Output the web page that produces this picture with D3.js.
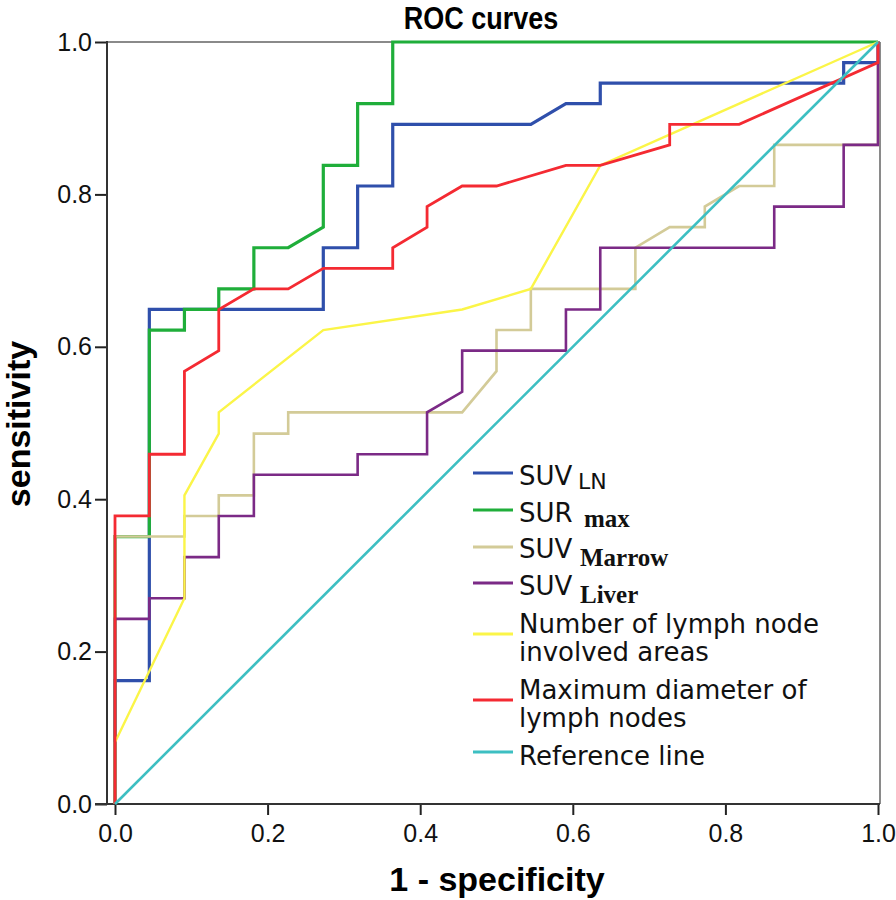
<!DOCTYPE html>
<html>
<head>
  <title>ROC curves</title>
  <script src="https://d3js.org/d3.v7.min.js"></script>
  <style>
    body { margin: 0; background: #fff; }
  </style>
</head>
<body>
  <div id="chart"></div>
  <script>
    // ROC points (1 - specificity, sensitivity)
    const suvLnFpr  = [0,0,0.045,0.045,0.273,0.273,0.318,0.318,0.364,0.364,0.545,0.591,0.636,0.636,0.955,0.955,1,1];
    const suvLnTpr  = [0,0.162,0.162,0.649,0.649,0.730,0.730,0.811,0.811,0.892,0.892,0.919,0.919,0.946,0.946,0.973,0.973,1];

    const surMaxFpr = [0,0,0.045,0.045,0.091,0.091,0.136,0.136,0.182,0.182,0.227,0.273,0.273,0.318,0.318,0.364,0.364,1];
    const surMaxTpr = [0,0.351,0.351,0.622,0.622,0.649,0.649,0.676,0.676,0.730,0.730,0.757,0.838,0.838,0.919,0.919,1,1];

    const marrowFpr = [0,0,0.091,0.091,0.136,0.136,0.182,0.182,0.227,0.227,0.455,0.5,0.5,0.545,0.545,0.682,0.682,0.727,0.773,0.773,0.818,0.864,0.864,1,1];
    const marrowTpr = [0,0.351,0.351,0.378,0.378,0.405,0.405,0.486,0.486,0.514,0.514,0.568,0.622,0.622,0.676,0.676,0.730,0.757,0.757,0.784,0.811,0.811,0.865,0.865,1];

    const liverFpr  = [0,0,0.045,0.045,0.091,0.091,0.136,0.136,0.182,0.182,0.318,0.318,0.409,0.409,0.455,0.455,0.591,0.591,0.636,0.636,0.864,0.864,0.955,0.955,1,1];
    const liverTpr  = [0,0.243,0.243,0.270,0.270,0.324,0.324,0.378,0.378,0.432,0.432,0.459,0.459,0.514,0.541,0.595,0.595,0.649,0.649,0.730,0.730,0.784,0.784,0.865,0.865,1];

    const areasFpr  = [0,0,0.091,0.091,0.136,0.136,0.273,0.455,0.545,0.636,1];
    const areasTpr  = [0,0.081,0.270,0.405,0.486,0.514,0.622,0.649,0.676,0.838,1];

    const diamFpr   = [0,0,0.045,0.045,0.091,0.091,0.136,0.136,0.182,0.227,0.273,0.364,0.364,0.409,0.409,0.455,0.5,0.591,0.636,0.727,0.727,0.818,1,1];
    const diamTpr   = [0,0.378,0.378,0.459,0.459,0.568,0.595,0.649,0.676,0.676,0.703,0.703,0.730,0.757,0.784,0.811,0.811,0.838,0.838,0.865,0.892,0.892,0.973,1];

    const refFpr    = [0, 1];
    const refTpr    = [0, 1];

    const ticks = [0, 0.2, 0.4, 0.6, 0.8, 1.0];

    const curves = [
      {fpr: suvLnFpr,  tpr: suvLnTpr,  color: "#2f4fab", w: 3.2},
      {fpr: surMaxFpr, tpr: surMaxTpr, color: "#1fae3a", w: 3.2},
      {fpr: marrowFpr, tpr: marrowTpr, color: "#d3cb98", w: 2.6},
      {fpr: liverFpr,  tpr: liverTpr,  color: "#7b2a86", w: 2.6},
      {fpr: areasFpr,  tpr: areasTpr,  color: "#fbf548", w: 2.4},
      {fpr: diamFpr,   tpr: diamTpr,   color: "#f42a32", w: 2.8},
      {fpr: refFpr,    tpr: refTpr,    color: "#3dbfc2", w: 2.6}
    ];

    const width = 896, height = 900;
    const svg = d3.select("#chart").append("svg")
      .attr("width", width)
      .attr("height", height);

    const x = d3.scaleLinear().domain([0, 1]).range([115, 878]);
    const y = d3.scaleLinear().domain([0, 1]).range([804, 42]);

    const left = 107, right = 880;

    // frame: gray top/right, dark axes
    svg.append("line").attr("x1", left).attr("x2", right).attr("y1", y(1)).attr("y2", y(1))
      .attr("stroke", "#8a8a8a").attr("stroke-width", 2);
    svg.append("line").attr("x1", right).attr("x2", right).attr("y1", y(1)).attr("y2", y(0))
      .attr("stroke", "#8a8a8a").attr("stroke-width", 2);

    // axes
    const yAxis = svg.append("g")
      .attr("transform", `translate(${left},0)`)
      .call(d3.axisLeft(y).tickValues(ticks).tickFormat(d3.format(".1f")).tickSize(12).tickPadding(3));
    const xAxis = svg.append("g")
      .attr("transform", `translate(0,${y(0)})`)
      .call(d3.axisBottom(x).tickValues(ticks).tickFormat(d3.format(".1f")).tickSize(11).tickPadding(6));

    [yAxis, xAxis].forEach(g => {
      g.select(".domain").remove();
      g.selectAll(".tick line").attr("stroke", "#222").attr("stroke-width", 2);
      g.selectAll(".tick text")
        .attr("fill", "#111")
        .style("font-family", "Liberation Sans, Arial, sans-serif")
        .style("font-size", "25px");
    });
    xAxis.selectAll(".tick text").attr("dy", "0.85em");

    svg.append("line").attr("x1", left).attr("x2", left).attr("y1", y(1) - 1).attr("y2", y(0) + 1)
      .attr("stroke", "#333").attr("stroke-width", 2);
    svg.append("line").attr("x1", left - 12).attr("x2", right).attr("y1", y(0)).attr("y2", y(0))
      .attr("stroke", "#333").attr("stroke-width", 2);

    // curves
    const line = d3.line().x(d => x(d[0])).y(d => y(d[1]));
    curves.forEach(c => {
      svg.append("path")
        .datum(c.fpr.map((f, i) => [f, c.tpr[i]]))
        .attr("d", line)
        .attr("fill", "none")
        .attr("stroke", c.color)
        .attr("stroke-width", c.w)
        .attr("stroke-linejoin", "miter");
    });

    // titles (title font is condensed in the original)
    svg.append("text")
      .attr("transform", "translate(481,29) scale(0.87,1)")
      .attr("text-anchor", "middle")
      .style("font-family", "Liberation Sans, Arial, sans-serif")
      .style("font-weight", "bold")
      .style("font-size", "31px")
      .text("ROC curves");

    svg.append("text")
      .attr("x", 497).attr("y", 891)
      .attr("text-anchor", "middle")
      .style("font-family", "Liberation Sans, Arial, sans-serif")
      .style("font-weight", "bold")
      .style("font-size", "34px")
      .text("1 - specificity");

    svg.append("text")
      .attr("transform", "translate(30,424) rotate(-90)")
      .attr("text-anchor", "middle")
      .style("font-family", "Liberation Sans, Arial, sans-serif")
      .style("font-weight", "bold")
      .style("font-size", "34px")
      .text("sensitivity");

    // legend
    const legendFont = "DejaVu Sans, Verdana, sans-serif";
    const serifFont = "Liberation Serif, Times New Roman, serif";
    const legend = [
      {color: curves[0].color, ly: 473, rows: [{t: "SUV", y: 485}], sub: {t: "LN", x: 578, y: 489, serif: false}},
      {color: curves[1].color, ly: 510, rows: [{t: "SUR", y: 522}], sub: {t: "max", x: 584, y: 527, serif: true}},
      {color: curves[2].color, ly: 547, rows: [{t: "SUV", y: 558}], sub: {t: "Marrow", x: 580, y: 566, serif: true}},
      {color: curves[3].color, ly: 583, rows: [{t: "SUV", y: 595}], sub: {t: "Liver", x: 580, y: 603, serif: true}},
      {color: curves[4].color, ly: 634, rows: [{t: "Number of lymph node", y: 633}, {t: "involved areas", y: 661}]},
      {color: curves[5].color, ly: 700, rows: [{t: "Maximum diameter of", y: 699}, {t: "lymph nodes", y: 727}]},
      {color: curves[6].color, ly: 752, rows: [{t: "Reference line", y: 765}]}
    ];

    legend.forEach(item => {
      svg.append("line")
        .attr("x1", 473).attr("x2", 513)
        .attr("y1", item.ly).attr("y2", item.ly)
        .attr("stroke", item.color).attr("stroke-width", 3);
      item.rows.forEach(r => {
        svg.append("text")
          .attr("x", 519).attr("y", r.y)
          .style("font-family", legendFont)
          .style("font-size", "26px")
          .attr("fill", "#111")
          .text(r.t);
      });
      if (item.sub) {
        svg.append("text")
          .attr("x", item.sub.x).attr("y", item.sub.y)
          .style("font-family", item.sub.serif ? serifFont : legendFont)
          .style("font-weight", item.sub.serif ? "bold" : "normal")
          .style("font-size", item.sub.serif ? "25px" : "22px")
          .attr("fill", "#111")
          .text(item.sub.t);
      }
    });
  </script>
</body>
</html>
